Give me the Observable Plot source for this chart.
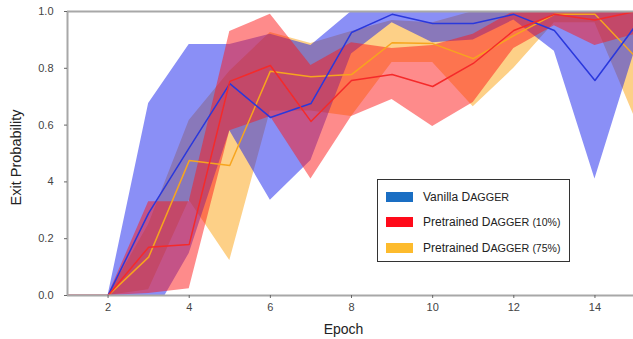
<!DOCTYPE html>
<html>
<head>
<meta charset="utf-8">
<script src="https://cdn.jsdelivr.net/npm/d3@7"></script>
<script src="https://cdn.jsdelivr.net/npm/@observablehq/plot@0.6"></script>
<style>
  body { margin: 0; background: #fff; font-family: "Liberation Sans", Arial, sans-serif; }
  #wrap { position: relative; width: 633px; height: 339px; overflow: hidden; }
  #legend { position: absolute; left: 377px; top: 179px; width: 191px; height: 81px;
            border: 1.5px solid #333; background: #fff; box-sizing: content-box; }
  .row { position: absolute; left: 8px; height: 12px; display: flex; align-items: center;
         font-size: 12px; color: #222; white-space: nowrap; }
  .sw { width: 27px; height: 10px; margin-right: 10px; }
  .sc { font-size: 10.8px; }
  .pc { font-size: 10.5px; margin-left: 3px; }
</style>
</head>
<body>
<div id="wrap"></div>
<script>
// ---- data ----
const epochs = [1, 2, 3, 4, 5, 6, 7, 8, 9, 10, 11, 12, 13, 14, 15];

const vanillaMean = [0, 0, 0.29, 0.52, 0.746, 0.627, 0.676, 0.926, 0.99, 0.958, 0.958, 0.99, 0.933, 0.757, 0.95];
const vanillaLow  = [0, 0, -0.1, 0.148, 0.58, 0.335, 0.475, 0.85, 0.96, 0.89, 0.9, 0.97, 0.86, 0.41, 0.87];
const vanillaHigh = [0, 0, 0.676, 0.884, 0.884, 0.92, 0.88, 1.0, 1.03, 1.02, 1.02, 1.02, 1.0, 1.1, 1.05];

const pre10Mean = [0, 0, 0.17, 0.18, 0.754, 0.81, 0.613, 0.757, 0.778, 0.736, 0.817, 0.933, 0.99, 0.97, 1.0];
const pre10Low  = [0, 0, 0.007, 0.024, 0.58, 0.63, 0.41, 0.63, 0.69, 0.595, 0.68, 0.87, 0.95, 0.88, 0.92];
const pre10High = [0, 0, 0.33, 0.33, 0.93, 0.99, 0.81, 0.89, 0.87, 0.88, 0.92, 1.0, 1.03, 1.06, 1.08];

const pre75Mean = [0, 0, 0.135, 0.475, 0.458, 0.79, 0.77, 0.778, 0.89, 0.887, 0.834, 0.915, 0.99, 0.99, 0.84];
const pre75Low  = [0, 0, 0.02, 0.335, 0.123, 0.65, 0.65, 0.63, 0.82, 0.82, 0.665, 0.8, 0.96, 0.96, 0.62];
const pre75High = [0, 0, 0.25, 0.616, 0.79, 0.926, 0.887, 0.93, 0.968, 0.96, 1.0, 1.03, 1.02, 1.02, 1.08];

const seriesNames = ["Vanilla DAGGER", "Pretrained DAGGER (10%)", "Pretrained DAGGER (75%)"];
const bandColors   = ["#151fed", "#fd1717", "#fba10f"];
const lineColors   = ["#2a38dc", "#f52a2a", "#f7a51e"];
const swatchColors = ["#1a6ec3", "#ff0a1a", "#fdbb2d"];
const bandOrder = [2, 0, 1]; // 75% band underneath, then vanilla, then 10%

const xTicks = [2, 4, 6, 8, 10, 12, 14];
const yTicks = [0, 0.2, 0.4, 0.6, 0.8, 1.0];
const yTickLabels = ["0.0", "0.2", "4", "0.6", "0.8", "1.0"];
const xTitle = "Epoch";
const yTitle = "Exit Probability";
const xDomain = [1, 14.95];

// ---- build tables ----
const means = [vanillaMean, pre10Mean, pre75Mean];
const lows = [vanillaLow, pre10Low, pre75Low];
const highs = [vanillaHigh, pre10High, pre75High];
const tables = seriesNames.map((name, s) =>
  epochs.map((e, i) => ({ series: name, epoch: e, mean: means[s][i], lo: lows[s][i], hi: highs[s][i] })));

const bandMarks = bandOrder.map(s =>
  Plot.areaY(tables[s], { x: "epoch", y1: "lo", y2: "hi", fill: bandColors[s], fillOpacity: 0.5, clip: true }));
const lineMarks = bandOrder.map(s =>
  Plot.line(tables[s], { x: "epoch", y: "mean", stroke: lineColors[s], strokeWidth: 1.5, clip: true }));

const chart = Plot.plot({
  width: 633,
  height: 339,
  marginLeft: 67,
  marginRight: 0,
  marginTop: 11,
  marginBottom: 44,
  x: { domain: xDomain },
  y: { domain: [yTicks[0], yTicks[yTicks.length - 1]] },
  style: { fontFamily: "'Liberation Sans', Arial, sans-serif", fontSize: "11px", color: "#444", background: "white" },
  marks: [
    ...bandMarks,
    ...lineMarks,
    Plot.ruleY([yTicks[0], yTicks[yTicks.length - 1]], { stroke: "#a8a8a8", strokeWidth: 2 }),
    Plot.ruleX([xDomain[0]], { stroke: "#a8a8a8", strokeWidth: 2 }),
    Plot.axisX(xTicks, { tickSize: 3, tickPadding: 5, stroke: "#666", fill: "#444", label: null }),
    Plot.axisY(yTicks, { tickSize: 3, tickPadding: 11, stroke: "#666", fill: "#444", label: null,
      tickFormat: d => yTickLabels[yTicks.indexOf(d)] }),
    Plot.text([yTitle], { frameAnchor: "left", textAnchor: "middle", dx: -51, dy: 4, rotate: -90, fontSize: 14.5, fill: "#222" }),
    Plot.text([xTitle], { frameAnchor: "bottom", textAnchor: "middle", dx: -7, dy: 38, fontSize: 14, fill: "#222" })
  ]
});

const wrap = document.getElementById("wrap");
wrap.appendChild(chart);

// ---- legend ----
const legend = document.createElement("div");
legend.id = "legend";
const rowTops = [11, 36, 62];
seriesNames.forEach((name, s) => {
  const row = document.createElement("div");
  row.className = "row";
  row.style.top = rowTops[s] + "px";
  const sw = document.createElement("div");
  sw.className = "sw";
  sw.style.background = swatchColors[s];
  row.appendChild(sw);
  const m = name.match(/^(.*?)D(AGGER)(.*)$/);
  const label = document.createElement("span");
  label.appendChild(document.createTextNode(m[1] + "D"));
  const sc = document.createElement("span");
  sc.className = "sc";
  sc.textContent = m[2];
  label.appendChild(sc);
  if (m[3].trim()) {
    const pc = document.createElement("span");
    pc.className = "pc";
    pc.textContent = m[3].trim();
    label.appendChild(pc);
  }
  row.appendChild(label);
  legend.appendChild(row);
});
wrap.appendChild(legend);
</script>
</body>
</html>
